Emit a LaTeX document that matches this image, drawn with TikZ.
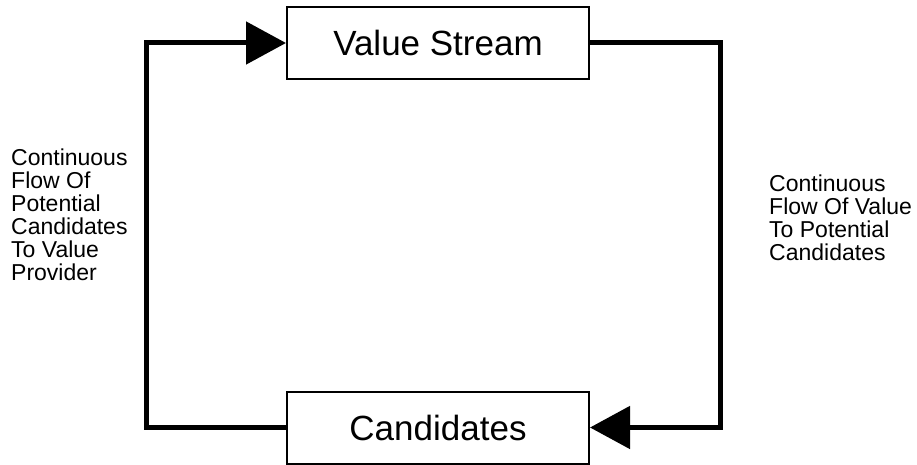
\documentclass[tikz,border=0pt]{standalone}
\usepackage{fontspec}
\setmainfont{Liberation Sans}
\usetikzlibrary{arrows.meta}
\begin{document}
\begin{tikzpicture}[x=1pt,y=1pt,
  box/.style={draw=black,line width=2pt,minimum width=302pt,minimum height=72pt,
    inner sep=0pt,font=\fontsize{35}{40}\selectfont},
  flow/.style={line width=5pt,line join=miter},
  head/.style={-{Triangle[length=40pt,width=42pt]}},
  side/.style={align=left,inner sep=0pt,anchor=north west,
    font=\fontsize{23}{23}\selectfont}]
\useasboundingbox (0,0) rectangle (917,464);

% the two stages
\node[box] (vs)   at (438,421)  {Value Stream};
\node[box] (cand) at (438,36.5) {Candidates};

% corners of the loop
\coordinate (bl) at (146,36.5);
\coordinate (tl) at (146,421);
\coordinate (tr) at (720,421);
\coordinate (br) at (720,36.5);

% flow back up to the value stream
\draw[flow,head] (cand.west) -- (bl) -- (tl) -- (vs.west);
% flow down to the candidates
\draw[flow,head] (vs.east) -- (tr) -- (br) -- (cand.east);

% side labels
\node[side] (lleft) at (11,315) {Continuous\\Flow Of\\Potential\\Candidates\\To Value\\Provider};
\node[side] (lright) at (769,289) {Continuous\\Flow Of Value\\To Potential\\Candidates};
\end{tikzpicture}
\end{document}
